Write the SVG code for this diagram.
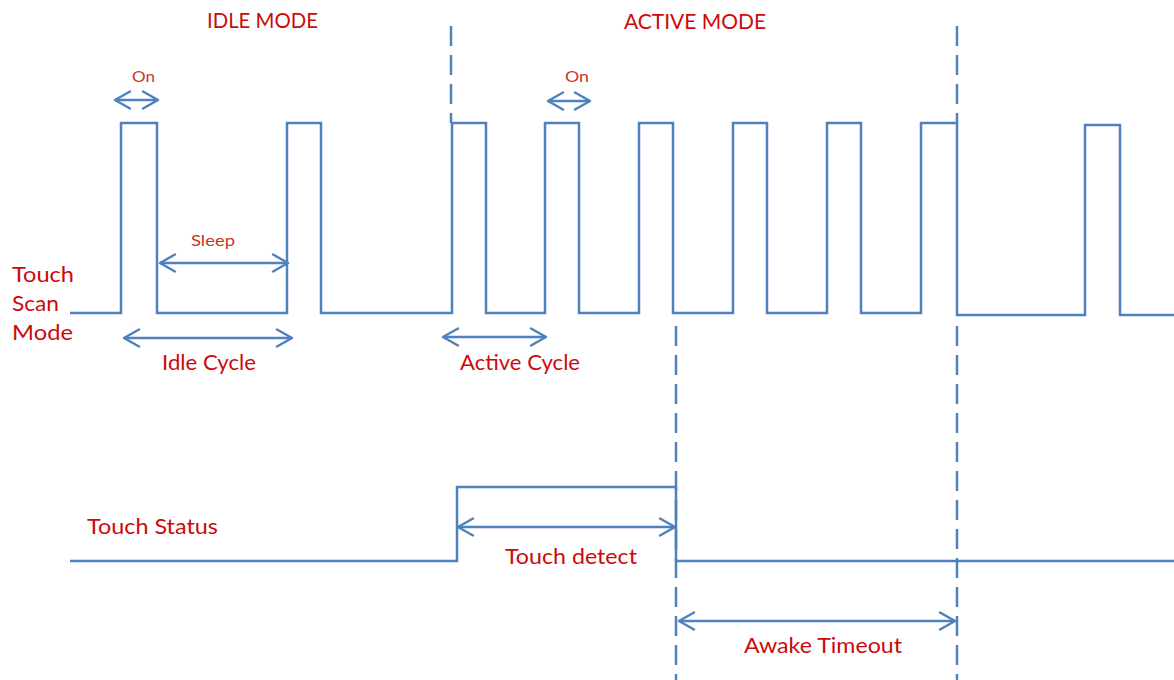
<svg xmlns="http://www.w3.org/2000/svg" width="1174" height="680" viewBox="0 0 1174 680">
  <style>
    .wave { fill: none; stroke: #4F81BD; stroke-width: 2.5; stroke-linejoin: miter; }
    .divider { fill: none; stroke: #4F81BD; stroke-width: 2.5; stroke-dasharray: 20 9; }
    .dim { fill: none; stroke: #4F81BD; stroke-width: 2.5; marker-start: url(#head); marker-end: url(#head); }
    .lbl { font-family: Lato, "Liberation Sans", sans-serif; font-size: 22px; fill: #cc0a0a; }
    .small { font-family: Lato, "Liberation Sans", sans-serif; font-size: 16px; fill: #c8352a; }
  </style>
  <defs>
    <marker id="head" viewBox="-17 -11 19 22" markerWidth="19" markerHeight="22" refX="0" refY="0" orient="auto-start-reverse" markerUnits="userSpaceOnUse">
      <path d="M-15,-8.5 L0,0 L-15,8.5" fill="none" stroke="#4F81BD" stroke-width="2.5" stroke-linejoin="round" stroke-linecap="round"/>
    </marker>
  </defs>
  <rect width="1174" height="680" fill="#ffffff"/>

  <!-- mode boundaries and timing markers -->
  <g id="dividers">
    <line class="divider" x1="451" y1="26" x2="451" y2="123"/>
    <line class="divider" x1="957" y1="26" x2="957" y2="123"/>
    <line class="divider" x1="957" y1="326" x2="957" y2="680"/>
    <line class="divider" x1="676" y1="326" x2="676" y2="680"/>
  </g>

  <!-- touch scan waveform -->
  <g id="scan-wave">
    <polyline class="wave" points="70,313 121,313 121,123 157,123 157,313 287,313 287,123 321,123 321,313 452,313 452,123 486,123 486,313 545,313 545,123 579,123 579,313 639,313 639,123 673,123 673,313 733,313 733,123 767,123 767,313 827,313 827,123 861,123 861,313 921,313 921,123 957,123 957,315 1085,315 1085,125 1120,125 1120,315 1174,315"/>
  </g>

  <!-- touch status waveform -->
  <g id="status-wave">
    <polyline class="wave" points="70,561 457,561 457,487 676,487 676,561 1174,561"/>
  </g>

  <!-- interval arrows -->
  <g id="connectors">
    <line class="dim" x1="115" y1="100" x2="158" y2="100"/>
    <line class="dim" x1="548" y1="101" x2="590" y2="101"/>
    <line class="dim" x1="160" y1="263" x2="288" y2="263"/>
    <line class="dim" x1="124" y1="338" x2="292" y2="338"/>
    <line class="dim" x1="443" y1="337" x2="546" y2="337"/>
    <line class="dim" x1="458" y1="527" x2="675" y2="527"/>
    <line class="dim" x1="679" y1="621" x2="955" y2="621"/>
  </g>

  <!-- labels -->
  <g id="labels">
    <text class="lbl" x="207" y="28" textLength="111" lengthAdjust="spacingAndGlyphs">IDLE MODE</text>
    <text class="lbl" x="624" y="29" textLength="142" lengthAdjust="spacingAndGlyphs">ACTIVE MODE</text>
    <text class="small" x="132" y="82" textLength="23" lengthAdjust="spacingAndGlyphs">On</text>
    <text class="small" x="565" y="82" textLength="24" lengthAdjust="spacingAndGlyphs">On</text>
    <text class="small" x="191" y="246" textLength="44" lengthAdjust="spacingAndGlyphs">Sleep</text>
    <text class="lbl" x="12" y="282" textLength="62" lengthAdjust="spacingAndGlyphs">Touch</text>
    <text class="lbl" x="12" y="311" textLength="47" lengthAdjust="spacingAndGlyphs">Scan</text>
    <text class="lbl" x="12" y="340" textLength="61" lengthAdjust="spacingAndGlyphs">Mode</text>
    <text class="lbl" x="162" y="370" textLength="94" lengthAdjust="spacingAndGlyphs">Idle Cycle</text>
    <text class="lbl" x="460" y="370" textLength="120" lengthAdjust="spacingAndGlyphs">Active Cycle</text>
    <text class="lbl" x="87" y="534" textLength="131" lengthAdjust="spacingAndGlyphs">Touch Status</text>
    <text class="lbl" x="505" y="564" textLength="132" lengthAdjust="spacingAndGlyphs">Touch detect</text>
    <text class="lbl" x="744" y="653" textLength="158" lengthAdjust="spacingAndGlyphs">Awake Timeout</text>
  </g>
</svg>
